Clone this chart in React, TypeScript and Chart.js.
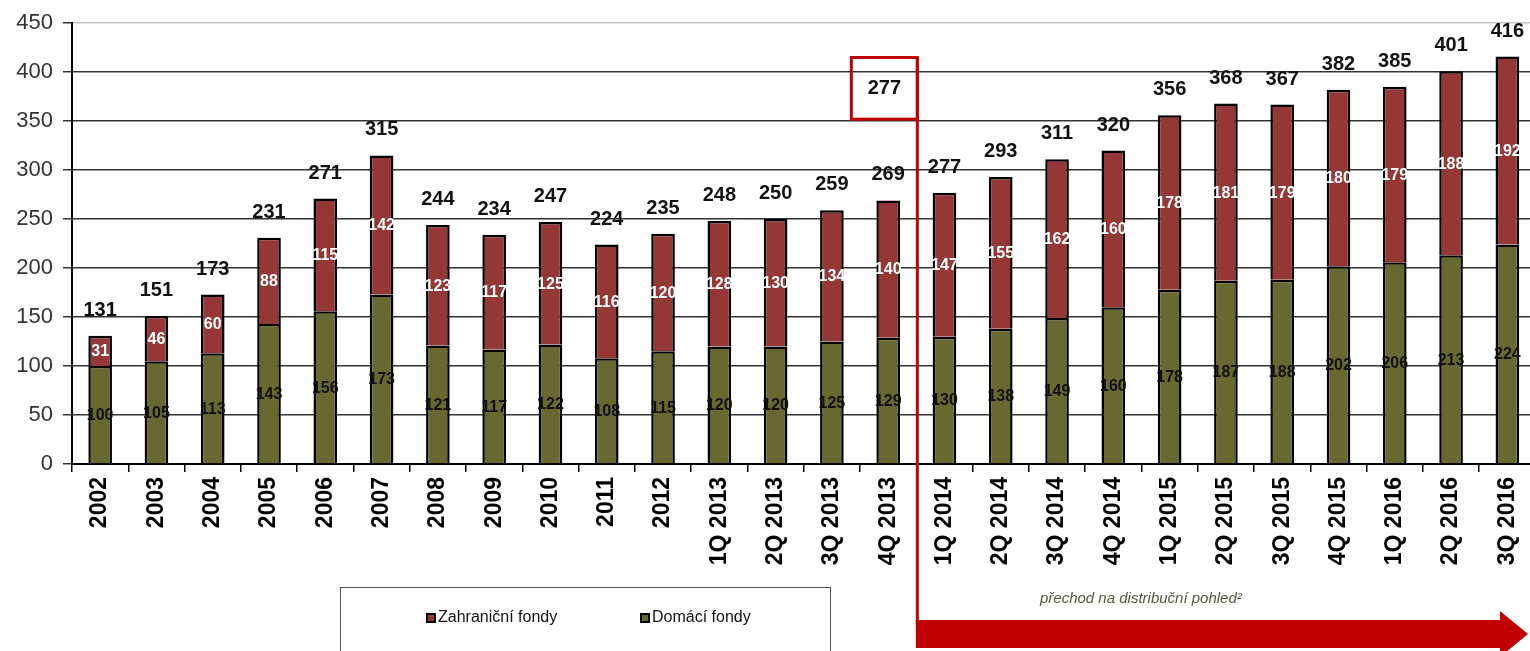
import React, { useEffect, useRef } from "react";
import { Chart, registerables } from "chart.js";

Chart.register(...registerables);

const categories = [
  "2002", "2003", "2004", "2005", "2006", "2007", "2008", "2009", "2010", "2011", "2012",
  "1Q 2013", "2Q 2013", "3Q 2013", "4Q 2013",
  "1Q 2014", "2Q 2014", "3Q 2014", "4Q 2014",
  "1Q 2015", "2Q 2015", "3Q 2015", "4Q 2015",
  "1Q 2016", "2Q 2016", "3Q 2016",
];
const domaciFondy = [100, 105, 113, 143, 156, 173, 121, 117, 122, 108, 115, 120, 120, 125, 129, 130, 138, 149, 160, 178, 187, 188, 202, 206, 213, 224];
const zahranicniFondy = [31, 46, 60, 88, 115, 142, 123, 117, 125, 116, 120, 128, 130, 134, 140, 147, 155, 162, 160, 178, 181, 179, 180, 179, 188, 192];
const totals = [131, 151, 173, 231, 271, 315, 244, 234, 247, 224, 235, 248, 250, 259, 269, 277, 293, 311, 320, 356, 368, 367, 382, 385, 401, 416];
const boxedValue = "277";
const boxRange = [352, 415];
const transitionIndex = 15;
const noteText = "přechod na distribuční pohled²";
const legendLabels = ["Zahraniční fondy", "Domácí fondy"];

const FONT = "'Liberation Sans', Arial, sans-serif";
const RED = "#953735";
const OLIVE = "#676931";
const ANNOT = "#C00000";

const valueLabels = {
  id: "valueLabels",
  afterDatasetsDraw(chart: any) {
    const ctx = chart.ctx;
    ctx.save();
    ctx.textAlign = "center";
    chart.data.datasets.forEach((ds: any, di: number) => {
      const meta = chart.getDatasetMeta(di);
      meta.data.forEach((el: any, i: number) => {
        ctx.font = `bold 16px ${FONT}`;
        ctx.textBaseline = "middle";
        ctx.fillStyle = di === 0 ? "#111" : "#fff";
        ctx.fillText(String(ds.data[i]), el.x, (el.y + el.base) / 2 + 1);
      });
    });
    const topMeta = chart.getDatasetMeta(1);
    ctx.font = `bold 20px ${FONT}`;
    ctx.textBaseline = "alphabetic";
    ctx.fillStyle = "#111";
    topMeta.data.forEach((el: any, i: number) => {
      ctx.fillText(String(totals[i]), el.x, el.y - 20);
    });
    ctx.restore();
  },
};

const annotations = {
  id: "annotations",
  afterDraw(chart: any) {
    const ctx = chart.ctx;
    const xs = chart.scales.x;
    const ys = chart.scales.y;
    const b = (xs.getPixelForValue(transitionIndex - 1) + xs.getPixelForValue(transitionIndex)) / 2 + 1;
    const top = ys.getPixelForValue(boxRange[1]);
    const bottom = ys.getPixelForValue(boxRange[0]);
    ctx.save();
    ctx.strokeStyle = ANNOT;
    ctx.lineWidth = 3;
    ctx.strokeRect(b - 66, top, 66, bottom - top);
    ctx.fillStyle = "#111";
    ctx.font = `bold 20px ${FONT}`;
    ctx.textAlign = "center";
    ctx.textBaseline = "middle";
    ctx.fillText(boxedValue, b - 33, (top + bottom) / 2);
    ctx.beginPath();
    ctx.moveTo(b, top);
    ctx.lineTo(b, 625);
    ctx.stroke();
    ctx.fillStyle = ANNOT;
    ctx.beginPath();
    ctx.moveTo(b - 1.5, 620);
    ctx.lineTo(1500, 620);
    ctx.lineTo(1500, 611);
    ctx.lineTo(1528, 634);
    ctx.lineTo(1500, 657);
    ctx.lineTo(1500, 648);
    ctx.lineTo(b - 1.5, 648);
    ctx.closePath();
    ctx.fill();
    ctx.fillStyle = "#55553f";
    ctx.font = `italic 15px ${FONT}`;
    ctx.textAlign = "left";
    ctx.textBaseline = "alphabetic";
    ctx.fillText(noteText, 1040, 603);
    ctx.strokeStyle = "#555";
    ctx.lineWidth = 1;
    ctx.strokeRect(340.5, 587.5, 490, 80);
    const items = [
      { x: 426, color: RED, text: legendLabels[0] },
      { x: 640, color: OLIVE, text: legendLabels[1] },
    ];
    ctx.font = `16px ${FONT}`;
    ctx.textBaseline = "middle";
    items.forEach((it) => {
      ctx.fillStyle = "#000";
      ctx.fillRect(it.x, 613, 10, 10);
      ctx.fillStyle = it.color;
      ctx.fillRect(it.x + 2, 615, 6, 6);
      ctx.fillStyle = "#111";
      ctx.fillText(it.text, it.x + 12, 618);
    });
    ctx.restore();
  },
};

export default function App() {
  const ref = useRef<HTMLCanvasElement>(null);
  useEffect(() => {
    const chart = new Chart(ref.current as HTMLCanvasElement, {
      type: "bar",
      data: {
        labels: categories,
        datasets: [
          {
            label: legendLabels[1],
            data: domaciFondy,
            backgroundColor: OLIVE,
            borderColor: "#000",
            borderWidth: 2.5,
            barPercentage: 0.42,
            categoryPercentage: 1,
          },
          {
            label: legendLabels[0],
            data: zahranicniFondy,
            backgroundColor: RED,
            borderColor: "#000",
            borderWidth: 2.5,
            barPercentage: 0.42,
            categoryPercentage: 1,
          },
        ],
      },
      options: {
        responsive: false,
        animation: false,
        devicePixelRatio: 1,
        layout: { padding: { top: 20, right: 2, left: 0, bottom: 0 } },
        plugins: {
          legend: { display: false },
          tooltip: { enabled: false },
        },
        scales: {
          x: {
            stacked: true,
            grid: {
              display: true,
              drawOnChartArea: false,
              drawTicks: true,
              tickLength: 8,
              color: "#000",
              lineWidth: 1.5,
              offset: true,
            },
            border: { display: true, color: "#000", width: 2 },
            ticks: {
              autoSkip: false,
              maxRotation: 90,
              minRotation: 90,
              padding: 5,
              color: "#000",
              font: { family: FONT, size: 23, weight: "bold" },
            },
            afterFit: (s: any) => {
              s.height = 187;
            },
          },
          y: {
            stacked: true,
            min: 0,
            max: 450,
            ticks: {
              stepSize: 50,
              padding: 10,
              color: "#333",
              font: { family: FONT, size: 22 },
            },
            grid: {
              color: (c: any) => (c.tick && c.tick.value === 450 ? "#c4c4c4" : "#333"),
              tickColor: "#333",
              lineWidth: 1.5,
              tickLength: 9,
              drawTicks: true,
            },
            border: { display: true, color: "#000", width: 2 },
            afterFit: (s: any) => {
              s.width = 72;
            },
          },
        },
      } as any,
      plugins: [valueLabels, annotations],
    });
    return () => chart.destroy();
  }, []);
  return (
    <div
      style={{
        position: "fixed",
        left: 0,
        top: 0,
        width: 1530,
        height: 651,
        overflow: "hidden",
        background: "#fff",
      }}
    >
      <canvas ref={ref} width={1540} height={651} style={{ display: "block", width: 1540, height: 651 }} />
    </div>
  );
}
